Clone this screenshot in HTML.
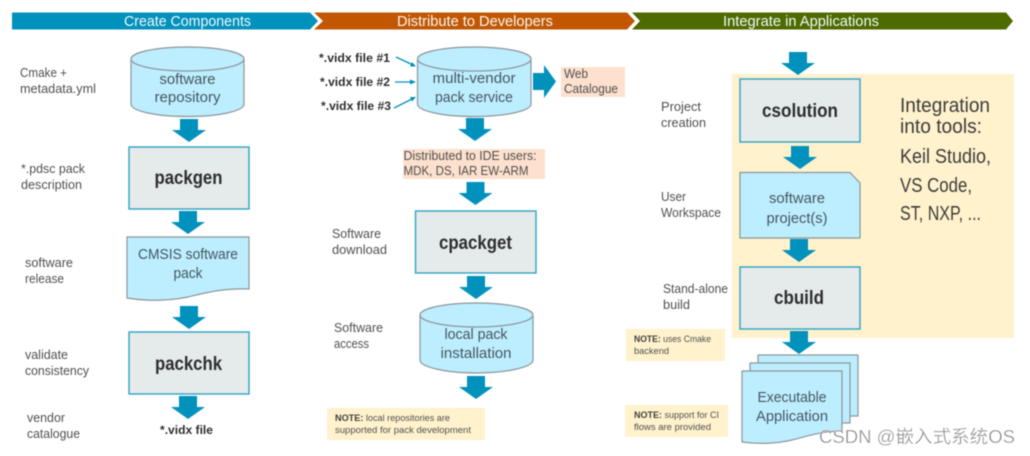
<!DOCTYPE html>
<html><head><meta charset="utf-8"><style>
html,body{margin:0;padding:0;background:#fff;width:1030px;height:456px;overflow:hidden}
svg{display:block;filter:blur(.4px)}
text{font-family:"Liberation Sans","Noto Sans CJK SC",sans-serif}
.l{font-size:12.5px;fill:#505050}
.m{font-size:14.5px;fill:#46565f;text-anchor:middle}
.b{font-size:19px;font-weight:bold;fill:#2e2e2e;text-anchor:middle}
.h{font-size:14.5px;fill:#f4f8f8;text-anchor:middle}
.v{font-size:12px;font-weight:bold;fill:#2e2e2e}
.n{font-size:9px;fill:#505050}
.n tspan{font-weight:bold;fill:#404040}
.i{font-size:20px;fill:#3c3c3c}
.o{fill:#e5eaea;stroke:#2fa3c6;stroke-width:1.4}
.s{fill:#bdeeff;stroke:#8c9599;stroke-width:1.2}
</style></head><body>
<svg width="1030" height="456" viewBox="0 0 1030 456" xmlns="http://www.w3.org/2000/svg">
<defs><path id="a" d="M-9 0H9V11H17L0 23L-17 11H-9Z" fill="#0091bd"/></defs>

<polygon points="12,12.5 310,12.5 318,21 310,29.5 12,29.5" fill="#0091bd"/>
<polygon points="314,12.5 627,12.5 635,21 627,29.5 314,29.5 323,21" fill="#c25700"/>
<polygon points="632,12.5 1006,12.5 1013,21 1006,29.5 632,29.5 640,21" fill="#4d6b00"/>
<text class="h" x="187.5" y="26" textLength="127" lengthAdjust="spacingAndGlyphs">Create Components</text>
<text class="h" x="475" y="26" textLength="156" lengthAdjust="spacingAndGlyphs">Distribute to Developers</text>
<text class="h" x="801" y="26" textLength="156" lengthAdjust="spacingAndGlyphs">Integrate in Applications</text>

<!-- column 1 -->
<path class="s" d="M131 59V104C131 111 156 116.500 187.500 116.500S244 111 244 104V59Z"/>
<ellipse class="s" cx="187.500" cy="59" rx="56.500" ry="12"/>
<text class="m" x="187.500" y="84" textLength="56" lengthAdjust="spacingAndGlyphs">software</text>
<text class="m" x="187.500" y="102" textLength="66" lengthAdjust="spacingAndGlyphs">repository</text>
<use href="#a" x="189" y="119"/>
<rect class="o" x="129" y="147" width="120" height="62"/>
<text class="b" x="188.500" y="184" textLength="68" lengthAdjust="spacingAndGlyphs">packgen</text>
<use href="#a" x="188" y="211"/>
<path class="s" d="M127 237H249V289C222 288 205 293 188 297C168 301 146 301 127 298Z"/>
<text class="m" x="188" y="259" textLength="100" lengthAdjust="spacingAndGlyphs">CMSIS software</text>
<text class="m" x="188" y="278" textLength="29" lengthAdjust="spacingAndGlyphs">pack</text>
<use href="#a" x="189" y="306"/>
<rect class="o" x="129" y="332" width="120" height="62"/>
<text class="b" x="188.500" y="370" textLength="67" lengthAdjust="spacingAndGlyphs">packchk</text>
<use href="#a" x="188" y="396"/>
<text class="v" x="160" y="434" textLength="53" lengthAdjust="spacingAndGlyphs">*.vidx file</text>

<text class="l" x="20" y="77" textLength="47" lengthAdjust="spacingAndGlyphs">Cmake +</text>
<text class="l" x="20" y="93" textLength="76" lengthAdjust="spacingAndGlyphs">metadata.yml</text>
<text class="l" x="21" y="173" textLength="64" lengthAdjust="spacingAndGlyphs">*.pdsc pack</text>
<text class="l" x="21" y="189" textLength="61" lengthAdjust="spacingAndGlyphs">description</text>
<text class="l" x="25" y="267" textLength="48" lengthAdjust="spacingAndGlyphs">software</text>
<text class="l" x="25" y="283" textLength="39" lengthAdjust="spacingAndGlyphs">release</text>
<text class="l" x="25" y="359" textLength="43" lengthAdjust="spacingAndGlyphs">validate</text>
<text class="l" x="25" y="375" textLength="64" lengthAdjust="spacingAndGlyphs">consistency</text>
<text class="l" x="27" y="422" textLength="38" lengthAdjust="spacingAndGlyphs">vendor</text>
<text class="l" x="27" y="438" textLength="53" lengthAdjust="spacingAndGlyphs">catalogue</text>

<!-- column 2 -->
<text class="v" x="319" y="62" textLength="71" lengthAdjust="spacingAndGlyphs">*.vidx file #1</text>
<text class="v" x="320" y="86" textLength="70" lengthAdjust="spacingAndGlyphs">*.vidx file #2</text>
<text class="v" x="321" y="110" textLength="70" lengthAdjust="spacingAndGlyphs">*.vidx file #3</text>
<g stroke="#0091bd" stroke-width="1.3" fill="#0091bd">
<line x1="396" y1="57" x2="412" y2="64.500"/><polygon points="416,66.500 410,66.500 412,62" stroke="none"/>
<line x1="395" y1="82" x2="412" y2="82"/><polygon points="416,82 410,79.500 410,84.500" stroke="none"/>
<line x1="394" y1="108" x2="412" y2="99"/><polygon points="416,97 410,97 412,101.500" stroke="none"/>
</g>
<path class="s" d="M417.500 59V104C417.500 111 443 116.500 474 116.500S531 111 531 104V59Z"/>
<ellipse class="s" cx="474.250" cy="59" rx="56.750" ry="12"/>
<text class="m" x="474" y="83" textLength="83" lengthAdjust="spacingAndGlyphs">multi-vendor</text>
<text class="m" x="474" y="102" textLength="78" lengthAdjust="spacingAndGlyphs">pack service</text>
<path d="M533 73H544V65L556 81.500L544 98V90H533Z" fill="#0091bd"/>
<rect x="561" y="67" width="64" height="30" fill="#fde0cd"/>
<text class="l" x="564" y="78" textLength="24" lengthAdjust="spacingAndGlyphs">Web</text>
<text class="l" x="564" y="93" textLength="54" lengthAdjust="spacingAndGlyphs">Catalogue</text>
<use href="#a" x="475" y="118"/>
<rect x="403" y="149" width="142" height="30" fill="#fde0cd"/>
<text class="l" x="403.500" y="160" textLength="133" lengthAdjust="spacingAndGlyphs">Distributed to IDE users:</text>
<text class="l" x="403.500" y="175" textLength="125" lengthAdjust="spacingAndGlyphs">MDK, DS, IAR EW-ARM</text>
<use href="#a" x="475.500" y="182"/>
<rect class="o" x="415.500" y="211" width="120.500" height="62"/>
<text class="b" x="475.500" y="249" textLength="73" lengthAdjust="spacingAndGlyphs">cpackget</text>
<use href="#a" x="476" y="276"/>
<path class="s" d="M420 315V360C420 367 446 373 476.500 373S533 367 533 360V315Z"/>
<ellipse class="s" cx="476.500" cy="315" rx="56.500" ry="12"/>
<text class="m" x="476" y="339" textLength="63" lengthAdjust="spacingAndGlyphs">local pack</text>
<text class="m" x="476" y="358" textLength="71" lengthAdjust="spacingAndGlyphs">installation</text>
<use href="#a" x="476" y="376"/>
<rect x="327" y="408" width="158" height="32" fill="#fff2cc"/>
<text class="n" x="335" y="421" textLength="115" lengthAdjust="spacingAndGlyphs"><tspan>NOTE:</tspan> local repositories are</text>
<text class="n" x="335" y="433" textLength="136" lengthAdjust="spacingAndGlyphs">supported for pack development</text>
<text class="l" x="332" y="238" textLength="49" lengthAdjust="spacingAndGlyphs">Software</text>
<text class="l" x="332" y="254" textLength="55" lengthAdjust="spacingAndGlyphs">download</text>
<text class="l" x="334" y="332" textLength="49" lengthAdjust="spacingAndGlyphs">Software</text>
<text class="l" x="334" y="348" textLength="35" lengthAdjust="spacingAndGlyphs">access</text>

<!-- column 3 -->
<rect x="732" y="74" width="282" height="264" fill="#fff2cc"/>
<use href="#a" x="798" y="52"/>
<rect class="o" x="740" y="79" width="120" height="63"/>
<text class="b" x="800" y="117" textLength="76" lengthAdjust="spacingAndGlyphs">csolution</text>
<use href="#a" x="800" y="146"/>
<path class="s" d="M740 172.500H850L860 183V238H740Z"/>
<text class="m" x="797" y="203" textLength="56" lengthAdjust="spacingAndGlyphs">software</text>
<text class="m" x="797" y="223" textLength="61" lengthAdjust="spacingAndGlyphs">project(s)</text>
<use href="#a" x="799" y="239"/>
<rect class="o" x="740" y="267" width="120" height="62"/>
<text class="b" x="799" y="304" textLength="50" lengthAdjust="spacingAndGlyphs">cbuild</text>
<use href="#a" x="799" y="331"/>
<text class="i" x="900" y="112" textLength="90" lengthAdjust="spacingAndGlyphs">Integration</text>
<text class="i" x="900" y="133" textLength="82" lengthAdjust="spacingAndGlyphs">into tools:</text>
<text class="i" x="900" y="163" textLength="91" lengthAdjust="spacingAndGlyphs">Keil Studio,</text>
<text class="i" x="900" y="192" textLength="72" lengthAdjust="spacingAndGlyphs">VS Code,</text>
<text class="i" x="900" y="220" textLength="81" lengthAdjust="spacingAndGlyphs">ST, NXP, ...</text>
<text class="l" x="661" y="111" textLength="40" lengthAdjust="spacingAndGlyphs">Project</text>
<text class="l" x="661" y="127" textLength="45" lengthAdjust="spacingAndGlyphs">creation</text>
<text class="l" x="661" y="201" textLength="25" lengthAdjust="spacingAndGlyphs">User</text>
<text class="l" x="661" y="217" textLength="60" lengthAdjust="spacingAndGlyphs">Workspace</text>
<text class="l" x="663" y="293" textLength="65" lengthAdjust="spacingAndGlyphs">Stand-alone</text>
<text class="l" x="663" y="309" textLength="27" lengthAdjust="spacingAndGlyphs">build</text>
<rect x="626" y="329" width="99" height="32" fill="#fff2cc"/>
<text class="n" x="634" y="342" textLength="77" lengthAdjust="spacingAndGlyphs"><tspan>NOTE:</tspan> uses Cmake</text>
<text class="n" x="634" y="354" textLength="35" lengthAdjust="spacingAndGlyphs">backend</text>
<rect x="625" y="405" width="103" height="32" fill="#fff2cc"/>
<text class="n" x="634" y="418" textLength="85" lengthAdjust="spacingAndGlyphs"><tspan>NOTE:</tspan> support for CI</text>
<text class="n" x="634" y="430" textLength="77" lengthAdjust="spacingAndGlyphs">flows are provided</text>

<rect class="s" x="758" y="355" width="100" height="61"/>
<rect class="s" x="750" y="363" width="100" height="60"/>
<path class="s" d="M742 371H842V431C822 431 808 436 792 440C775 444 757 444 742 442Z"/>
<text class="m" x="792" y="402" textLength="69" lengthAdjust="spacingAndGlyphs">Executable</text>
<text class="m" x="792" y="421" textLength="72" lengthAdjust="spacingAndGlyphs">Application</text>

<text x="819" y="443" font-size="18" fill="#8f8f8f" stroke="#fff" stroke-width=".3" textLength="196" lengthAdjust="spacingAndGlyphs">CSDN @嵌入式系统OS</text>
</svg>
</body></html>
